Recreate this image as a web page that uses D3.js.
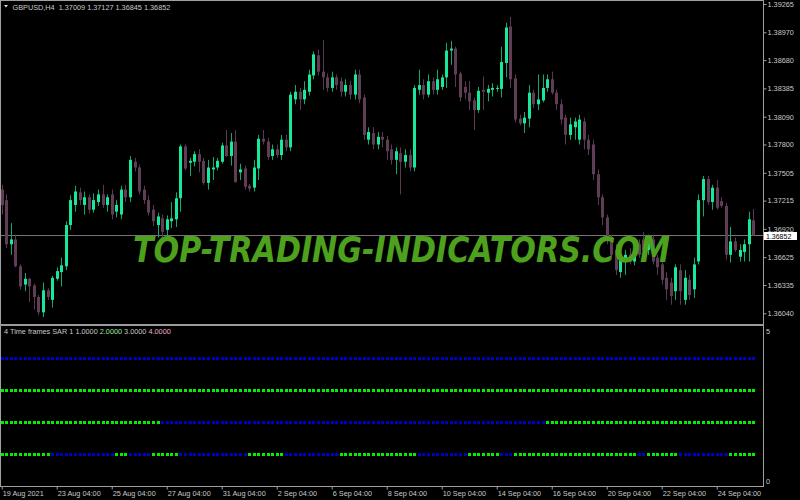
<!DOCTYPE html>
<html>
<head>
<meta charset="utf-8">
<script src="https://cdnjs.cloudflare.com/ajax/libs/d3/7.8.5/d3.min.js"></script>
<style>
  body { margin: 0; background: #000; }
  svg { display: block; }
  text { font-family: "Liberation Sans", Arial, sans-serif; }
</style>
</head>
<body>
<script>
'use strict';

const symbol = "GBPUSD,H4";
const lastBar = [1.37009, 1.37127, 1.36845, 1.36852];

const priceTicks = [1.39265, 1.38970, 1.38680, 1.38385, 1.38090, 1.37800,
  1.37505, 1.37215, 1.36920, 1.36625, 1.36335, 1.36040];

const timeBars = [0, 12, 24, 36, 48, 60, 72, 84, 96, 108, 120, 132, 144, 156];
const timeLabels = ["19 Aug 2021", "23 Aug 04:00", "25 Aug 04:00", "27 Aug 04:00",
  "31 Aug 04:00", "2 Sep 04:00", "6 Sep 04:00", "8 Sep 04:00", "10 Sep 04:00",
  "14 Sep 04:00", "16 Sep 04:00", "20 Sep 04:00", "22 Sep 04:00", "24 Sep 04:00"];

// open, high, low, close per H4 bar
const ohlc = [
  [1.3733,1.3738,1.3707,1.3717],[1.3722,1.3728,1.3672,1.3676],[1.3676,1.3698,1.3665,1.3681],
  [1.3681,1.3686,1.3652,1.3653],[1.3653,1.3655,1.3629,1.3632],[1.3634,1.3646,1.3627,1.3640],
  [1.3640,1.3641,1.3616,1.3632],[1.3633,1.3635,1.3608,1.3621],[1.3621,1.3623,1.3602,1.3605],
  [1.3605,1.3636,1.3600,1.3628],[1.3628,1.3630,1.3618,1.3621],[1.3618,1.3643,1.3610,1.3641],
  [1.3640,1.3652,1.3638,1.3648],[1.3647,1.3662,1.3632,1.3654],[1.3653,1.3700,1.3649,1.3696],
  [1.3696,1.3727,1.3691,1.3722],[1.3717,1.3737,1.3710,1.3731],[1.3730,1.3735,1.3717,1.3722],
  [1.3717,1.3731,1.3707,1.3725],[1.3725,1.3728,1.3708,1.3712],[1.3712,1.3729,1.3709,1.3722],
  [1.3720,1.3733,1.3716,1.3728],[1.3728,1.3738,1.3714,1.3717],[1.3717,1.3728,1.3710,1.3725],
  [1.3728,1.3733,1.3702,1.3707],[1.3710,1.3722,1.3704,1.3717],[1.3707,1.3737,1.3702,1.3733],
  [1.3733,1.3738,1.3720,1.3725],[1.3725,1.3768,1.3720,1.3764],[1.3762,1.3766,1.3752,1.3756],
  [1.3756,1.3759,1.3728,1.3731],[1.3733,1.3737,1.3718,1.3722],[1.3722,1.3727,1.3706,1.3709],
  [1.3712,1.3717,1.3695,1.3700],[1.3696,1.3709,1.3683,1.3705],[1.3703,1.3707,1.3681,1.3689],
  [1.3691,1.3706,1.3685,1.3702],[1.3700,1.3720,1.3693,1.3703],[1.3702,1.3730,1.3694,1.3724],
  [1.3724,1.3780,1.3710,1.3778],[1.3778,1.3780,1.3753,1.3755],[1.3761,1.3766,1.3747,1.3763],
  [1.3762,1.3773,1.3757,1.3770],[1.3770,1.3775,1.3751,1.3762],[1.3763,1.3766,1.3738,1.3740],
  [1.3740,1.3764,1.3733,1.3756],[1.3754,1.3767,1.3743,1.3756],[1.3756,1.3766,1.3753,1.3763],
  [1.3762,1.3782,1.3760,1.3779],[1.3779,1.3795,1.3767,1.3768],[1.3768,1.3792,1.3758,1.3783],
  [1.3783,1.3795,1.3740,1.3741],[1.3751,1.3760,1.3743,1.3754],[1.3755,1.3758,1.3733,1.3736],
  [1.3737,1.3739,1.3731,1.3734],[1.3735,1.3764,1.3731,1.3756],[1.3755,1.3790,1.3743,1.3786],
  [1.3786,1.3795,1.3780,1.3783],[1.3783,1.3787,1.3764,1.3767],[1.3768,1.3780,1.3764,1.3775],
  [1.3775,1.3780,1.3766,1.3769],[1.3769,1.3790,1.3764,1.3785],[1.3785,1.3790,1.3773,1.3777],
  [1.3777,1.3835,1.3773,1.3832],[1.3827,1.3842,1.3822,1.3835],[1.3835,1.3839,1.3816,1.3827],
  [1.3827,1.3846,1.3822,1.3837],[1.3835,1.3858,1.3831,1.3853],[1.3852,1.3877,1.3848,1.3874],
  [1.3873,1.3879,1.3852,1.3856],[1.3856,1.3889,1.3837,1.3850],[1.3850,1.3854,1.3835,1.3839],
  [1.3839,1.3856,1.3835,1.3850],[1.3850,1.3853,1.3837,1.3842],[1.3846,1.3850,1.3830,1.3835],
  [1.3835,1.3848,1.3830,1.3842],[1.3842,1.3846,1.3827,1.3832],[1.3832,1.3858,1.3827,1.3853],
  [1.3853,1.3858,1.3823,1.3827],[1.3829,1.3832,1.3785,1.3790],[1.3785,1.3798,1.3780,1.3793],
  [1.3792,1.3798,1.3775,1.3780],[1.3780,1.3793,1.3775,1.3788],[1.3788,1.3793,1.3777,1.3785],
  [1.3785,1.3789,1.3764,1.3773],[1.3775,1.3780,1.3759,1.3764],[1.3764,1.3777,1.3749,1.3773],
  [1.3771,1.3777,1.3728,1.3762],[1.3762,1.3775,1.3756,1.3769],[1.3769,1.3775,1.3752,1.3756],
  [1.3756,1.3842,1.3752,1.3839],[1.3837,1.3858,1.3832,1.3842],[1.3842,1.3848,1.3827,1.3832],
  [1.3832,1.3853,1.3829,1.3846],[1.3846,1.3850,1.3832,1.3837],[1.3837,1.3858,1.3832,1.3848],
  [1.3840,1.3853,1.3837,1.3850],[1.3850,1.3886,1.3839,1.3878],[1.3878,1.3888,1.3863,1.3880],
  [1.3880,1.3882,1.3840,1.3853],[1.3854,1.3856,1.3825,1.3829],[1.3840,1.3846,1.3827,1.3834],
  [1.3834,1.3846,1.3816,1.3825],[1.3826,1.3829,1.3795,1.3816],[1.3816,1.3840,1.3813,1.3836],
  [1.3837,1.3851,1.3816,1.3835],[1.3834,1.3842,1.3825,1.3838],[1.3837,1.3844,1.3830,1.3839],
  [1.3838,1.3842,1.3835,1.3839],[1.3838,1.3882,1.3829,1.3866],[1.3865,1.3907,1.3850,1.3902],
  [1.3903,1.3913,1.3839,1.3848],[1.3849,1.3853,1.3803,1.3806],[1.3807,1.3811,1.3800,1.3802],
  [1.3802,1.3814,1.3792,1.3808],[1.3807,1.3842,1.3798,1.3834],[1.3834,1.3837,1.3818,1.3822],
  [1.3822,1.3853,1.3816,1.3827],[1.3826,1.3853,1.3824,1.3839],[1.3839,1.3853,1.3835,1.3848],
  [1.3848,1.3856,1.3832,1.3834],[1.3834,1.3837,1.3816,1.3822],[1.3822,1.3827,1.3801,1.3806],
  [1.3808,1.3811,1.3780,1.3790],[1.3790,1.3808,1.3785,1.3801],[1.3798,1.3808,1.3785,1.3804],
  [1.3785,1.3811,1.3780,1.3806],[1.3804,1.3808,1.3775,1.3785],[1.3785,1.3790,1.3769,1.3775],
  [1.3780,1.3785,1.3743,1.3749],[1.3749,1.3754,1.3717,1.3725],[1.3725,1.3728,1.3696,1.3704],
  [1.3704,1.3707,1.3676,1.3681],[1.3681,1.3686,1.3660,1.3665],[1.3670,1.3676,1.3644,1.3649],
  [1.3647,1.3665,1.3641,1.3660],[1.3658,1.3670,1.3644,1.3665],[1.3665,1.3672,1.3655,1.3658],
  [1.3658,1.3676,1.3654,1.3670],[1.3676,1.3681,1.3662,1.3665],[1.3681,1.3689,1.3665,1.3670],
  [1.3670,1.3686,1.3665,1.3681],[1.3681,1.3686,1.3655,1.3658],[1.3662,1.3665,1.3644,1.3652],
  [1.3655,1.3660,1.3634,1.3639],[1.3641,1.3647,1.3618,1.3629],[1.3636,1.3641,1.3613,1.3622],
  [1.3627,1.3655,1.3618,1.3652],[1.3649,1.3655,1.3613,1.3627],[1.3618,1.3649,1.3613,1.3641],
  [1.3639,1.3644,1.3618,1.3623],[1.3629,1.3662,1.3620,1.3655],[1.3658,1.3728,1.3655,1.3722],
  [1.3722,1.3747,1.3705,1.3744],[1.3744,1.3747,1.3717,1.3720],[1.3720,1.3738,1.3712,1.3735],
  [1.3735,1.3743,1.3712,1.3714],[1.3721,1.3725,1.3714,1.3716],[1.3716,1.3719,1.3660,1.3665],
  [1.3665,1.3694,1.3657,1.3679],[1.3679,1.3683,1.3668,1.3670],[1.3663,1.3676,1.3658,1.3670],
  [1.3668,1.3681,1.3658,1.3676],[1.3676,1.3710,1.3658,1.3702],
  [1.37009,1.37127,1.36845,1.36852]
];

// indicator: state of each timeframe, as runs of [state, bar count]
const sarParams = ["1.0000", "2.0000", "3.0000", "4.0000"];
const sarLevels = [1, 2, 3, 4];
const sarRuns = [
  [["g",11],["b",14],["g",3],["b",5],["g",6],["b",15],["g",8],["b",12],["g",17],
   ["b",11],["g",7],["b",3],["g",27],["b",2],["g",7],["b",11],["g",6]],
  [["g",35],["b",84],["g",46]],
  [["g",165]],
  [["b",165]]
];

const W = 800, H = 500;
const plotRight = 763, mainBottom = 324, subTop = 326, subBottom = 486;
const bullColor = "#17e89c", bearColor = "#5f3d56";
const sarColors = { g: "#00f000", b: "#0000c0" };
const axisColor = "#a0a0a0", textColor = "#c8c8c8";

const svg = d3.select("body").append("svg")
  .attr("width", W).attr("height", H);
svg.append("rect").attr("width", W).attr("height", H).attr("fill", "#000");

const x = d3.scaleLinear().domain([0, ohlc.length - 1]).range([1.7, 753.4]);
const y = d3.scaleLinear().domain([1.36040, 1.39265]).range([313.3, 4]);
const ySub = d3.scaleLinear().domain([0, 5]).range([subBottom, subTop]);

svg.append("clipPath").attr("id", "mainClip")
  .append("rect").attr("x", 1).attr("y", 1).attr("width", plotRight - 1).attr("height", mainBottom - 1);

const main = svg.append("g").attr("clip-path", "url(#mainClip)");

// bid line
const bidY = Math.round(y(lastBar[3])) + 0.5;
main.append("line")
  .attr("x1", 0).attr("x2", plotRight)
  .attr("y1", bidY).attr("y2", bidY)
  .attr("stroke", "#7a7078").attr("stroke-width", 1);

const bars = main.selectAll(".bar").data(ohlc).enter().append("g").attr("class", "bar");
bars.append("rect")
  .attr("x", (d, i) => Math.round(x(i)))
  .attr("width", 1)
  .attr("y", d => y(d[1]))
  .attr("height", d => Math.max(1, y(d[2]) - y(d[1])))
  .attr("fill", d => d[3] >= d[0] ? "#10a872" : "#5a3a52");
bars.append("rect")
  .attr("x", (d, i) => Math.round(x(i)) - 1)
  .attr("width", 3)
  .attr("y", d => y(Math.max(d[0], d[3])))
  .attr("height", d => Math.max(1, Math.abs(y(d[0]) - y(d[3]))))
  .attr("fill", d => d[3] >= d[0] ? bullColor : bearColor);

// watermark
main.append("text")
  .attr("x", 133).attr("y", 262)
  .attr("textLength", 537).attr("lengthAdjust", "spacingAndGlyphs")
  .style("font-family", "'DejaVu Sans', sans-serif")
  .style("font-weight", "bold").style("font-style", "italic")
  .style("font-size", "35px")
  .attr("fill", "#4da11c")
  .text("TOP-TRADING-INDICATORS.COM");

// title
svg.append("path").attr("d", "M4,5 L8,5 L6,7.5 Z").attr("fill", "#e0e0e0");
svg.append("text").attr("x", 12.5).attr("y", 9.5)
  .style("font-size", "7.3px").attr("fill", textColor)
  .attr("xml:space", "preserve")
  .text(symbol + "  " + lastBar.map(d3.format(".5f")).join(" "));

// indicator dots
sarRuns.forEach((runs, r) => {
  const states = [];
  runs.forEach(([s, n]) => { for (let k = 0; k < n; k++) states.push(s); });
  svg.append("g").selectAll("rect").data(states).enter().append("rect")
    .attr("x", (d, i) => Math.round(x(i)) - 1)
    .attr("y", Math.round(ySub(sarLevels[r])) - 1)
    .attr("width", 3).attr("height", 3)
    .attr("fill", d => sarColors[d]);
});

const subTitle = svg.append("text").attr("x", 4).attr("y", 334)
  .style("font-size", "7.3px").attr("fill", textColor);
subTitle.append("tspan").text("4 Time frames SAR 1 ");
const paramColors = [textColor, "#9fe89f", textColor, "#f0b0c8"];
sarParams.forEach((p, i) => {
  subTitle.append("tspan").attr("fill", paramColors[i]).text(p + (i < 3 ? " " : ""));
});

svg.append("text").attr("x", 766).attr("y", 333.5)
  .style("font-size", "7.3px").attr("fill", textColor).text("5");
svg.append("text").attr("x", 766).attr("y", 484)
  .style("font-size", "7.3px").attr("fill", textColor).text("0");

// frame lines
svg.append("line").attr("x1", 0.5).attr("x2", 0.5).attr("y1", 0).attr("y2", subBottom)
  .attr("stroke", axisColor);
svg.append("line").attr("x1", 0).attr("x2", plotRight).attr("y1", 0.5).attr("y2", 0.5)
  .attr("stroke", axisColor);
svg.append("rect").attr("x", 0).attr("y", mainBottom).attr("width", plotRight).attr("height", 2)
  .attr("fill", "#9a9a9a");

// price axis
const yAxis = d3.axisRight(y).tickValues(priceTicks).tickSize(3).tickPadding(1)
  .tickFormat(d3.format(".5f"));
const gy = svg.append("g").attr("transform", `translate(${plotRight + 0.5},0)`).call(yAxis);
gy.select(".domain").remove();
gy.selectAll("line").attr("stroke", axisColor);
gy.selectAll("text").attr("fill", textColor).style("font-size", "7.3px");
svg.append("line").attr("x1", plotRight + 0.5).attr("x2", plotRight + 0.5)
  .attr("y1", 0).attr("y2", subBottom + 1).attr("stroke", axisColor);

// current price box
svg.append("rect").attr("x", 764).attr("y", bidY - 3.5)
  .attr("width", 33).attr("height", 8).attr("fill", "#fff");
svg.append("text").attr("x", 766).attr("y", bidY + 3)
  .style("font-size", "7px").attr("fill", "#000").text(d3.format(".5f")(lastBar[3]));

// time axis
const xAxis = d3.axisBottom(x).tickValues(timeBars).tickSize(3).tickPadding(1)
  .tickFormat((d, i) => timeLabels[i]);
const gx = svg.append("g").attr("transform", `translate(0,${subBottom + 0.5})`).call(xAxis);
gx.select(".domain").remove();
gx.selectAll("line").attr("stroke", axisColor);
gx.selectAll("text").attr("fill", textColor).style("font-size", "7.3px")
  .attr("text-anchor", "start").attr("dx", 0.5);
svg.append("line").attr("x1", 0).attr("x2", plotRight + 1)
  .attr("y1", subBottom + 0.5).attr("y2", subBottom + 0.5).attr("stroke", axisColor);
</script>
</body>
</html>
